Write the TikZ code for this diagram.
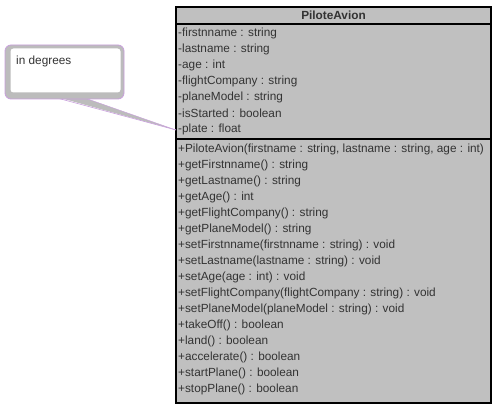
\documentclass[tikz,border=0pt]{standalone}
\usepackage{fontspec}
\setmainfont{Liberation Sans}
\usepackage{tikz}
\usetikzlibrary{positioning}
\definecolor{classgray}{HTML}{C0C0C0}
\definecolor{notegray}{HTML}{BCBCBC}
\definecolor{notepurple}{HTML}{C89EDC}
\definecolor{umltxt}{HTML}{333333}
\tikzset{
	member/.style={anchor=west, inner sep=0pt, text=umltxt, font=\fontsize{11.8}{13}\selectfont},
	notebox/.style={draw=notepurple, fill=notegray, rounded corners=6pt, line width=0.8pt},
}

\begin{document}
\begin{tikzpicture}[x=1pt,y=-1pt]
	\useasboundingbox (0,0) rectangle (499,412);
	% class box
	\draw[fill=classgray, line width=1.3pt] (176,7) rectangle (491,403);
	\draw[line width=1.1pt] (176,24) -- (491,24);
	\draw[line width=1.1pt] (176,139) -- (491,139);
	\node[inner sep=0pt, text=umltxt, font=\fontsize{11.8}{13}\selectfont\bfseries] (title) at (333.5,15.5) {PiloteAvion};
	% attributes
	\foreach \txt [count=\i] in {-firstnname : string, -lastname : string, -age : int,
		-flightCompany : string, -planeModel : string, -isStarted : boolean, -plate : float}
		\node[member] (attr\i) at (178,17+16*\i) {\txt};
	% methods
	\foreach \txt [count=\i] in {{+PiloteAvion(firstname : string, lastname : string, age : int)},
		+getFirstnname() : string, +getLastname() : string, +getAge() : int,
		+getFlightCompany() : string, +getPlaneModel() : string,
		+setFirstnname(firstnname : string) : void, +setLastname(lastname : string) : void,
		+setAge(age : int) : void, +setFlightCompany(flightCompany : string) : void,
		+setPlaneModel(planeModel : string) : void, +takeOff() : boolean, +land() : boolean,
		+accelerate() : boolean, +startPlane() : boolean, +stopPlane() : boolean}
		\node[member] (meth\i) at (178,133+16*\i) {\txt};
	% note
	\coordinate (tip) at (176,130);
	\fill[notegray] (57,97) -- (tip) -- (82,97) -- cycle;
	\draw[notepurple, line width=0.6pt] (57,98) -- (tip);
	\draw[notepurple, line width=0.4pt] (82,97) -- (tip);
	\node[notebox, minimum width=119pt, minimum height=54pt] (note) at (64.5,72) {};
	\node[fill=white, rounded corners=3pt, minimum width=110pt, minimum height=44pt, inner sep=0pt] (noteinner) at (65.5,70.5) {};
	\node[member] (notetext) at (16,61) {in degrees};
\end{tikzpicture}
\end{document}
